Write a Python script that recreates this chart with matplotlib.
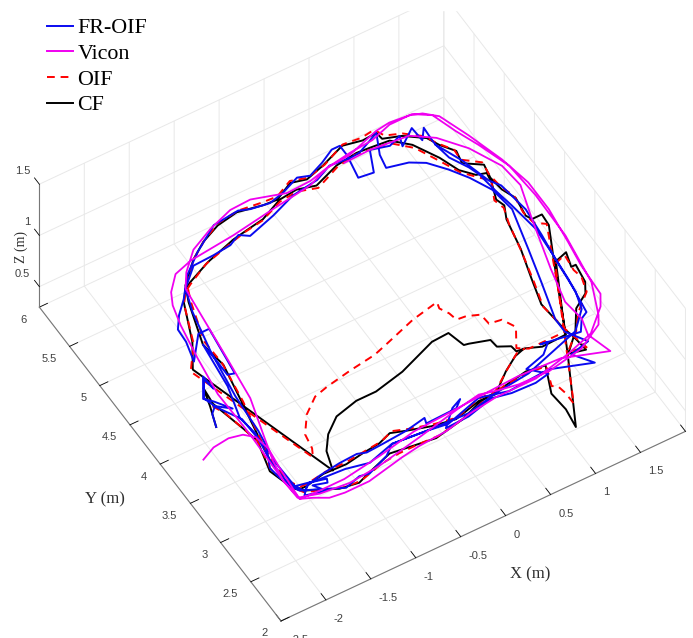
import matplotlib
matplotlib.use('Agg')
import matplotlib.pyplot as plt
from matplotlib.lines import Line2D
from matplotlib.patches import Rectangle
from mpl_toolkits.mplot3d import proj3d

# values, taken on the z=1 plane
vicon_x = [-2.57,-2.41,-2.23,-2.09,-2.0,-1.97,-2.0,-2.02,-2.03,-1.91,-1.78,-1.62,-1.35,-0.93,-0.72,-0.41,-0.11,0.21,0.66,1.08,1.39,1.64,1.72,1.74,1.78,1.83,1.83,1.76,1.64,1.52,1.4,1.28,1.07,0.91,0.54,0.28,0.06,-0.21,-0.55,-0.78,-1.06,-1.33,-1.53,-1.64,-1.66,-1.74,-1.8,-1.92,-2.01,-2.05,
           -2.04,-1.83,-1.52,-1.17,-0.67,-0.16,0.09,0.25,0.48,0.81,1.22,1.51,1.57,1.72,1.80,1.81,1.78,1.66,1.56,1.47,1.31,1.06,0.82,0.56,0.28,0.03,-0.43,-0.91,-1.42,-1.63,-1.78,-1.85,-1.91,-1.98,-2.04,-2.03,-2.04,-2.05,-2.03,
           -1.87,-1.54,-1.11,-0.67,-0.27,0.08,0.53,0.99,1.44,1.36,1.41,1.38,1.47,1.63,1.75,1.72,1.56,1.36,1.15,0.74,0.45]
vicon_y = [3.18,3.25,3.27,3.24,3.16,3.00,2.76,2.53,2.39,2.34,2.27,2.25,2.25,2.33,2.36,2.38,2.44,2.48,2.48,2.57,2.66,2.87,2.99,3.34,3.61,4.01,4.35,4.68,5.05,5.36,5.46,5.50,5.52,5.50,5.39,5.37,5.32,5.31,5.41,5.40,5.31,5.19,5.01,4.86,4.70,4.02,3.55,3.16,2.86,2.63,
           2.41,2.35,2.32,2.35,2.44,2.54,2.58,2.54,2.50,2.49,2.56,2.71,2.80,3.14,3.69,4.20,4.59,4.92,5.15,5.40,5.50,5.50,5.43,5.41,5.37,5.28,5.22,5.15,5.10,5.04,4.89,4.76,4.54,4.15,3.73,3.21,2.92,2.63,2.39,
           2.38,2.38,2.44,2.52,2.54,2.56,2.58,2.56,2.41,2.66,2.84,3.07,3.44,3.99,4.36,4.62,4.93,5.17,5.31,5.35,5.34]
oif_x = [-2.16,-2.10,-2.05,-2.01,-2.08,-2.02,-1.95,-1.77,-1.59,-1.41,-1.14,-0.93,-0.71,-0.49,-0.20,0.06,0.35,0.61,0.82,0.74,0.79,0.81,0.81,0.91,1.39,1.54,1.67,1.65,1.67,1.62,1.43,1.28,1.09,1.27,1.21,1.17,1.25,1.34,1.41,1.47,1.44,1.54,1.46,1.34,1.24,1.12,0.94,0.74,0.58,0.36,0.08,-0.12,-0.32,-0.58,-0.79,-0.97,-1.32,-1.57,-1.66,-1.75,-1.92,-2.12,
         -1.66,-1.61,-1.58,-1.44,-1.26,-1.10,-0.81,-0.51,-0.34,0.02,0.33,0.31,0.36,0.38,0.48,0.61,0.62,0.75,0.82,0.69,0.79,0.89,1.19,1.39,1.59,1.72,1.62,1.60,1.63,1.58,1.56,1.58,1.42,1.43,1.33,1.27,1.11,0.95,0.90,0.75,0.55,0.28,0.06,-0.11,-0.31,-0.47,-0.72,-0.96,-1.18,-1.37,-1.59,-1.68,-1.82,-1.81,-1.88,-1.96,-2.02,-2.01,-1.95,-1.87,-1.65,-1.41,-1.20,-1.00,-0.85,-0.71,-0.46,-0.23,0.06,0.25,0.48,0.66,0.76]
oif_y = [3.64,3.52,3.3,3.12,2.8,2.53,2.43,2.37,2.3,2.29,2.36,2.38,2.38,2.37,2.42,2.49,2.55,2.57,2.55,2.34,2.31,2.21,2.08,2.27,3.19,3.47,3.51,3.33,3.23,3.07,2.92,2.74,2.59,2.55,2.81,3.12,3.39,3.73,4.04,4.22,4.33,4.53,4.61,4.74,4.94,5.17,5.33,5.35,5.37,5.33,5.22,5.28,5.26,5.16,5.13,5.09,5.0,4.88,4.83,4.72,4.31,4.06,
         2.72,2.81,2.97,3.15,3.28,3.32,3.37,3.41,3.46,3.57,3.63,3.56,3.47,3.38,3.37,3.32,3.2,3.18,3.05,2.85,2.79,2.79,2.79,3.19,3.61,3.88,3.95,4.09,4.29,4.42,4.59,4.74,4.86,4.98,5.12,5.24,5.36,5.42,5.52,5.5,5.52,5.41,5.36,5.41,5.32,5.33,5.36,5.33,5.23,5.11,4.92,4.71,4.28,4.0,3.55,3.19,2.87,2.61,2.5,2.5,2.53,2.53,2.55,2.57,2.62,2.57,2.5,2.46,2.54,2.54,2.69,2.8,2.81]
cf_x = [-2.26,-2.18,-2.12,-2.14,-2.05,-2.01,-2.10,-2.02,-1.95,-1.78,-1.64,-1.44,-1.30,-1.01,-0.78,-0.53,-0.20,0.07,0.32,0.62,0.82,0.69,0.71,0.68,1.04,1.56,1.70,1.65,1.70,1.67,1.60,1.43,1.28,1.08,1.25,1.23,1.20,1.17,1.25,1.35,1.42,1.49,1.46,1.53,1.55,1.45,1.34,1.26,1.12,0.96,0.75,0.61,0.37,0.08,-0.11,-0.31,-0.57,-0.76,-0.94,-1.29,-1.56,-1.64,-1.74,-1.92,-2.09,
        -1.58,-1.51,-1.39,-1.21,-0.95,-0.73,-0.39,0.04,0.23,0.28,0.33,0.53,0.54,0.66,0.67,0.76,0.91,1.18,1.39,1.55,1.73,1.74,1.63,1.60,1.63,1.57,1.55,1.58,1.41,1.44,1.34,1.28,1.09,0.91,0.90,0.74,0.54,0.26,0.04,-0.12,-0.33,-0.48,-0.74,-0.98,-1.20,-1.39,-1.62,-1.70,-1.85,-1.81,-1.90,-1.97,-2.03,-2.03,-1.96,-1.89,-1.68,-1.43,-1.23,-1.03,-0.88,-0.73,-0.49,-0.25,0.05,0.23,0.46,0.63,0.74]
cf_y = [3.43,3.65,3.85,3.66,3.30,3.12,2.78,2.52,2.45,2.38,2.31,2.28,2.33,2.42,2.39,2.36,2.42,2.51,2.54,2.59,2.56,2.27,2.06,1.85,2.51,3.49,3.53,3.37,3.37,3.17,3.06,2.96,2.75,2.57,2.53,2.71,2.83,3.15,3.43,3.76,4.10,4.24,4.33,4.51,4.62,4.65,4.77,4.97,5.21,5.35,5.37,5.38,5.35,5.25,5.30,5.28,5.17,5.14,5.11,5.01,4.90,4.86,4.74,4.33,4.07,
        2.51,2.72,2.87,3.00,3.06,3.06,3.13,3.28,3.29,3.11,3.10,3.04,2.95,2.89,2.82,2.81,2.75,2.76,3.19,3.51,3.86,3.99,3.99,4.05,4.26,4.40,4.56,4.71,4.82,4.96,5.09,5.21,5.34,5.40,5.48,5.47,5.51,5.41,5.35,5.39,5.29,5.30,5.35,5.31,5.22,5.10,4.89,4.72,4.26,3.98,3.52,3.18,2.88,2.60,2.48,2.48,2.52,2.51,2.54,2.56,2.61,2.56,2.49,2.45,2.52,2.51,2.68,2.78,2.81]
fr_x = [-2.26,-2.21,-2.14,-2.18,-2.06,-2.04,-2.05,-2.19,-2.12,-2.01,-2.15,-2.00,-1.99,-1.98,-2.08,-2.06,-1.96,-1.94,-1.85,-1.68,-1.70,-1.84,-1.76,-1.97,-1.89,-1.72,-1.48,-1.28,-1.19,-1.01,-0.73,-0.50,-0.52,-0.18,-0.09,-0.21,-0.39,-0.13,0.17,0.37,0.63,0.79,0.64,0.87,0.99,0.91,1.32,1.41,1.49,1.55,1.58,1.60,1.55,1.51,1.48,1.44,1.34,1.31,1.31,1.32,1.23,1.22,1.03,1.07,0.93,0.74,0.63,0.47,0.52,0.52,0.43,0.27,0.09,-0.03,-0.24,-0.41,-0.61,-0.72,-1.01,-1.31,-1.54,-1.72,-1.86,-1.96,-1.97,-2.03,-1.82,-1.70,-1.77,-1.84,-1.84,-1.85,-1.91,-2.01,-1.98,-2.03,-2.03,-1.98,
        -1.58,-1.40,-1.30,-1.05,-0.93,-0.57,-0.34,0.07,0.36,0.82,1.24,1.10,1.32,1.19,1.19,1.31,1.41,1.53,1.49,1.38,1.26,1.12,0.98,0.76,0.79,0.90,0.64,0.53,0.31,0.12,-0.18,-0.46,-0.78,-0.87,-1.00,-1.20,-1.43,-1.64,-1.73,-1.83,-1.91,-1.94,-2.00,-1.99,-1.79,-1.47,-1.23,-0.93,-0.57,-0.11,0.24,0.63,1.28,1.47,1.53,1.57,1.61,1.64,1.59,1.52,1.43,1.31]
fr_y = [3.43,3.57,3.63,3.75,3.93,3.80,3.96,3.75,3.68,3.53,3.64,3.39,3.14,3.01,2.81,2.67,2.48,2.44,2.50,2.46,2.42,2.46,2.35,2.40,2.48,2.52,2.55,2.56,2.53,2.54,2.56,2.60,2.54,2.55,2.62,2.57,2.41,2.42,2.49,2.45,2.44,2.47,2.61,2.67,2.77,2.78,2.72,2.84,2.88,3.27,3.60,3.88,4.21,4.42,4.64,4.75,4.93,5.11,5.17,5.32,5.21,5.37,5.24,5.35,5.30,5.35,5.12,5.14,5.40,5.52,5.52,5.44,5.37,5.41,5.33,5.29,5.32,5.36,5.33,5.15,4.98,4.77,4.64,4.51,4.36,4.14,4.38,4.38,3.85,3.87,4.04,4.26,3.76,3.41,3.20,2.88,2.56,2.47,
        2.29,2.34,2.32,2.41,2.50,2.47,2.44,2.55,2.48,2.51,2.37,2.55,2.60,2.79,2.95,3.36,3.72,4.17,4.44,4.65,4.82,4.98,5.06,5.11,5.26,5.48,5.37,5.36,5.38,5.30,5.26,5.16,5.07,5.13,5.07,5.05,5.04,4.86,4.61,4.16,3.63,3.21,2.84,2.53,2.49,2.47,2.42,2.50,2.47,2.45,2.52,2.56,2.75,2.93,3.12,3.51,3.80,4.11,4.44,4.54,4.84,5.11]
flight_z = 1.0

x_ticks = [-2.5, -2, -1.5, -1, -0.5, 0, 0.5, 1, 1.5, 2]
y_ticks = [2, 2.5, 3, 3.5, 4, 4.5, 5, 5.5, 6]
z_ticks = [0.5, 1, 1.5]
x_tick_labels = ['-2.5', '-2', '-1.5', '-1', '-0.5', '0', '0.5', '1', '1.5', '']
y_tick_labels = ['2', '2.5', '3', '3.5', '4', '4.5', '5', '5.5', '6']
z_tick_labels = ['0.5', '1', '1.5']

W, H = 693, 638
plt.rcParams['font.family'] = 'Liberation Sans'
plt.rcParams['grid.color'] = '#e8e8e8'
plt.rcParams['grid.linewidth'] = 0.7

fig = plt.figure(figsize=(W/100, H/100), dpi=100)
ax = fig.add_axes([-0.3, -0.3, 1.6, 1.6], projection='3d', proj_type='ortho')
ax.computed_zorder = False
ax.view_init(elev=51.3, azim=-121)
ax.set_xlim(-2.5, 2, view_margin=0)
ax.set_ylim(2, 6, view_margin=0)
ax.set_zlim(0.3, 1.5, view_margin=0)

blue, magenta = '#0a0af0', '#f000f0'
ax.plot(cf_x, cf_y, flight_z, color='k', lw=1.4, zorder=2)
ax.plot(oif_x, oif_y, flight_z, color='r', lw=1.4, ls=(0, (4, 3)), zorder=3)
ax.plot(fr_x, fr_y, flight_z, color=blue, lw=1.4, zorder=4)
ax.plot(vicon_x, vicon_y, flight_z, color=magenta, lw=1.3, zorder=5)

ax.set_xticks(x_ticks, [''] * len(x_ticks))
ax.set_yticks(y_ticks, [''] * len(y_ticks))
ax.set_zticks(z_ticks, [''] * len(z_ticks))
for a in (ax.xaxis, ax.yaxis, ax.zaxis):
    a.set_pane_color((1, 1, 1, 0))
    a.pane.set_edgecolor('#e8e8e8')
    a.line.set_color('#777777')
    a.line.set_linewidth(0.8)
    a._axinfo['tick'].update(inward_factor=0, outward_factor=0.25, linewidth={True: 0.6, False: 0.6})
    a._axinfo['tick']['color'] = '#777777'
ax.zaxis.set_ticks_position('upper')
# z ticks point along Y in the picture
ax.zaxis._get_tickdir = lambda position: 1

# line the box up with the corners of the X axis in the picture
ax.set_box_aspect((474.7, 472, 197.8))
fig.canvas.draw()
def corner(x, y, z):
    a, b, _ = proj3d.proj_transform(x, y, z, ax.get_proj())
    return ax.transData.transform((a, b))
c0, c1 = corner(-2.5, 2, 0.3), corner(2, 2, 0.3)
d = ((c1[0]-c0[0])**2 + (c1[1]-c0[1])**2)**0.5
ax.set_box_aspect((474.7, 472, 197.8), zoom=((686.7-281)**2 + (434-621)**2)**0.5/d)
fig.canvas.draw()
c0 = corner(-2.5, 2, 0.3)
pos = ax.get_position()
ax.set_position([pos.x0 + (281-c0[0])/W, pos.y0 + ((H-621)-c0[1])/H, pos.width, pos.height])

# tick labels sit off the tick ends, same offset along each axis
def tick_text(x, y, z, lab, off, ha):
    a, b, _ = proj3d.proj_transform(x, y, z, ax.get_proj())
    ax.annotate(lab, (a, b), xytext=off, textcoords='offset pixels', ha=ha, va='center',
                fontsize=8, color='#404040', annotation_clip=False)

for v, lab in zip(x_ticks, x_tick_labels):
    tick_text(v, 2, 0.3, lab, (8, -19), 'left')
for v, lab in zip(y_ticks, y_tick_labels):
    tick_text(-2.5, v, 0.3, lab, (-13, -12.5), 'right')
for v, lab in zip(z_ticks, z_tick_labels):
    tick_text(-2.5, 6, v, lab, (-9, 13), 'right')

serif = 'Liberation Serif'
fig.text(530/W, 1-574/H, 'X (m)', family=serif, fontsize=12, color='#303030', ha='center', va='center')
fig.text(105/W, 1-499/H, 'Y (m)', family=serif, fontsize=12, color='#303030', ha='center', va='center')
fig.text(21/W, 1-247/H, 'Z (m)', family=serif, fontsize=10, color='#303030', ha='center', va='center', rotation=90)

fig.add_artist(Rectangle((0, 1-10/H), 1, 10/H, transform=fig.transFigure, color='w', zorder=1))
handles = [Line2D([], [], color=blue, lw=1.4),
           Line2D([], [], color=magenta, lw=1.4),
           Line2D([], [], color='r', lw=1.4, ls=(0, (4, 3))),
           Line2D([], [], color='k', lw=1.4)]
leg = fig.legend(handles, ['FR-OIF', 'Vicon', 'OIF', 'CF'], loc='upper left', bbox_to_anchor=(47/W, 1-18/H),
                 frameon=False, prop={'family': serif, 'size': 15.8}, handlelength=1.18, handletextpad=0.2,
                 labelspacing=0.24, borderaxespad=0, borderpad=0)
leg.set_zorder(2)
fig.savefig('out.png', dpi=100)
